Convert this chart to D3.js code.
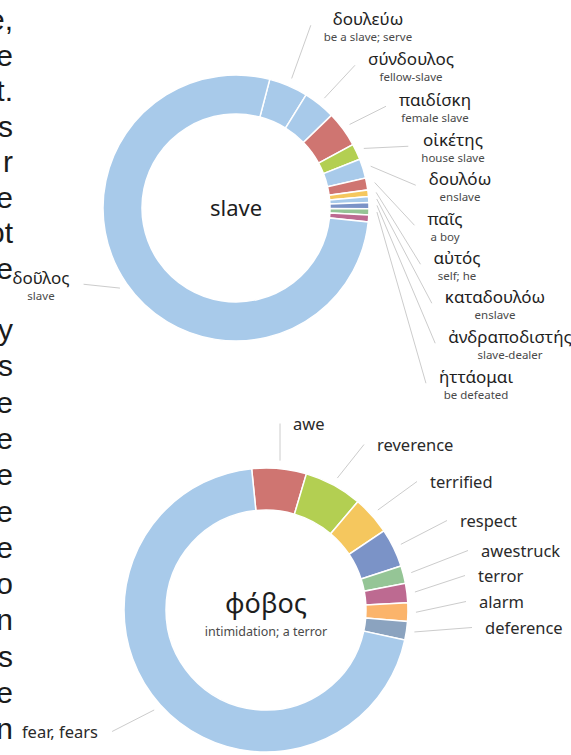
<!DOCTYPE html>
<html>
<head>
<meta charset="utf-8">
<script src="https://cdn.jsdelivr.net/npm/d3@7"></script>
<style>
  body { margin: 0; background: #fff; }
  svg { display: block; }
</style>
</head>
<body>
<div id="chart"></div>
<script>
// --- data -------------------------------------------------------------
const slaveTerms = ["δουλεύω", "σύνδουλος", "παιδίσκη", "οἰκέτης", "δουλόω", "παῖς",
  "αὐτός", "καταδουλόω", "ἀνδραποδιστής", "ἡττάομαι", "", "δοῦλος"];
const slaveGlosses = ["be a slave; serve", "fellow-slave", "female slave", "house slave",
  "enslave", "a boy", "self; he", "enslave", "slave-dealer", "be defeated", "", "slave"];
const slaveShares = [4.75, 3.9, 4.35, 1.95, 2.35, 1.45, 0.8, 0.7, 0.75, 0.75, 0.85, 77.4];

const fearTerms = ["awe", "reverence", "terrified", "respect", "awestruck", "terror",
  "alarm", "deference", "fear, fears"];
const fearShares = [6.2, 6.6, 4.4, 4.4, 2.0, 2.2, 2.1, 2.1, 70.0];

// cut-off right edge of the page text column
const pageLinesTop = ["e,", "e", "t.", "s", "r", "e", "ot", "e"];
const pageLinesBottom = ["y", "s", "e", "e", "e", "e", "e", "o", "n", "s", "e", "n"];

// --- styles / layout ----------------------------------------------------
const width = 571;
const height = 755;
const c = {
  lb: "#a8caea", red: "#cf7571", green: "#b3cf52", yellow: "#f5c75e",
  dblue: "#7b93c7", green2: "#95c596", magenta: "#bd6a91", orange: "#fbb46b", grey: "#8ba3bf"
};
const slaveColors = [c.lb, c.lb, c.red, c.green, c.lb, c.red, c.yellow, c.lb, c.dblue, c.green2, c.magenta, c.lb];
const fearColors = [c.red, c.green, c.yellow, c.dblue, c.green2, c.magenta, c.orange, c.grey, c.lb];

// label anchors: [x, baseline]
const slaveLabelAt = [[368, 25], [411, 65], [435, 106], [453, 146], [460, 185], [445, 225],
  [457, 264], [495, 303], [510, 343], [476, 383], null, [41, 284]];
// single-line labels: [left (or right for left side), baseline]
const fearLabelAt = [[293, 430], [377, 451], [430, 488], [460, 527], [481, 557], [478, 582],
  [479, 608], [485, 634], [98, 738]];

const font = "'Noto Sans', 'Open Sans', sans-serif";

const svg = d3.select("#chart").append("svg")
  .attr("width", width)
  .attr("height", height)
  .attr("viewBox", [0, 0, width, height]);

// page text fragments on the left
const page = svg.append("g")
  .attr("font-family", "'Liberation Sans', Arial, sans-serif")
  .attr("font-size", 30)
  .attr("fill", "#1b1b1b")
  .attr("text-anchor", "end");

page.selectAll(".top")
  .data(pageLinesTop)
  .join("text")
  .attr("class", "top")
  .attr("x", 13)
  .attr("y", (d, i) => 30 + i * 35.5)
  .text(d => d);

page.selectAll(".bottom")
  .data(pageLinesBottom)
  .join("text")
  .attr("class", "bottom")
  .attr("x", 13)
  .attr("y", (d, i) => 340 + i * 36.3)
  .text(d => d);

function drawDonut(opt) {
  const g = svg.append("g")
    .attr("transform", "translate(" + opt.cx + "," + opt.cy + ")");

  const start = opt.startDeg * Math.PI / 180;
  const pie = d3.pie()
    .sort(null)
    .value(d => d)
    .startAngle(start)
    .endAngle(start + 2 * Math.PI);

  const arc = d3.arc()
    .innerRadius(opt.inner)
    .outerRadius(opt.outer);

  const leaderArc = d3.arc()
    .innerRadius(opt.outer + 8)
    .outerRadius(opt.outer + 8);

  const arcs = pie(opt.shares);

  g.selectAll(".slice")
    .data(arcs)
    .join("path")
    .attr("class", "slice")
    .attr("d", arc)
    .attr("fill", (d, i) => opt.colors[i])
    .attr("stroke", "#fff")
    .attr("stroke-width", 1.5);

  arcs.forEach((d, i) => {
    const at = opt.labelAt[i];
    if (!at || !opt.terms[i]) return;
    const [lx, ly] = at;
    const leftSide = lx < opt.cx;
    const lab = svg.append("g").attr("font-family", font);

    if (opt.glosses) {
      lab.append("text")
        .attr("x", lx).attr("y", ly)
        .attr("text-anchor", "middle")
        .attr("font-size", 17)
        .attr("fill", "#1e1e1e")
        .text(opt.terms[i]);
      lab.append("text")
        .attr("x", lx).attr("y", ly + 15.5)
        .attr("text-anchor", "middle")
        .attr("font-size", 11.5)
        .attr("fill", "#4a4a4a")
        .text(opt.glosses[i]);
    } else {
      lab.append("text")
        .attr("x", lx).attr("y", ly)
        .attr("text-anchor", leftSide ? "end" : "start")
        .attr("font-size", 16.5)
        .attr("fill", "#2a2a2a")
        .text(opt.terms[i]);
    }

    const box = lab.node().getBBox();
    const p = leaderArc.centroid(d);
    const ex = leftSide ? box.x + box.width + 14 : box.x - 13;
    const ey = box.y + box.height / 2;

    svg.append("line")
      .attr("x1", opt.cx + p[0]).attr("y1", opt.cy + p[1])
      .attr("x2", ex).attr("y2", ey)
      .attr("stroke", "#cccccc")
      .attr("stroke-width", 1);
  });

  return g;
}

// top donut: slave
const topDonut = drawDonut({
  cx: 236, cy: 208, outer: 133, inner: 94, startDeg: 14.7,
  shares: slaveShares, colors: slaveColors,
  terms: slaveTerms, glosses: slaveGlosses, labelAt: slaveLabelAt
});
topDonut.append("text")
  .attr("y", 8)
  .attr("text-anchor", "middle")
  .attr("font-family", font)
  .attr("font-size", 22)
  .attr("fill", "#1e1e1e")
  .text("slave");

// bottom donut: φόβος
const bottomDonut = drawDonut({
  cx: 266, cy: 610, outer: 142, inner: 100, startDeg: -5.8,
  shares: fearShares, colors: fearColors,
  terms: fearTerms, glosses: null, labelAt: fearLabelAt
});
bottomDonut.append("text")
  .attr("y", 3)
  .attr("text-anchor", "middle")
  .attr("font-family", font)
  .attr("font-size", 27)
  .attr("fill", "#1e1e1e")
  .text("φόβος");
bottomDonut.append("text")
  .attr("y", 26)
  .attr("text-anchor", "middle")
  .attr("font-family", font)
  .attr("font-size", 12.5)
  .attr("fill", "#4a4a4a")
  .text("intimidation; a terror");
</script>
</body>
</html>
